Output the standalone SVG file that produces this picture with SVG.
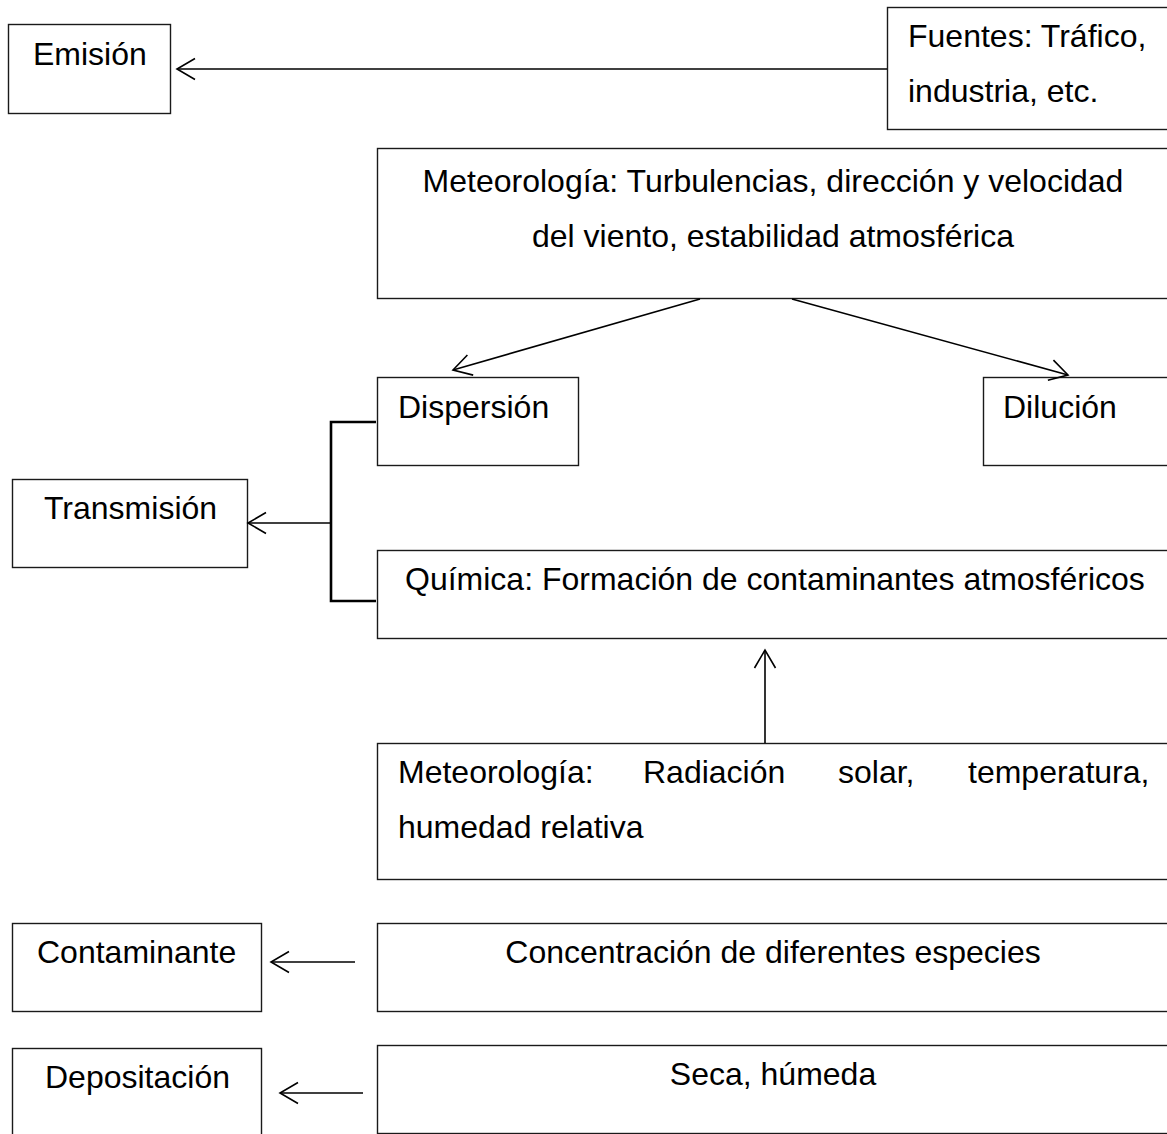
<svg xmlns="http://www.w3.org/2000/svg" width="1167" height="1134" viewBox="0 0 1167 1134">
<style>
  .box { fill: #ffffff; stroke: #1a1a1a; stroke-width: 1.4; }
  .t { font-family: "Liberation Sans", Arial, sans-serif; font-size: 32px; fill: #000000; }
  .c { text-anchor: middle; }
  .ln { fill: none; stroke: #000000; stroke-width: 1.6; }
  .br { fill: none; stroke: #000000; stroke-width: 2.6; }
</style>
<defs>
  <marker id="arr" markerUnits="userSpaceOnUse" markerWidth="40" markerHeight="40" refX="0" refY="0" orient="auto" overflow="visible">
    <path d="M-18,-10.5 L0,0 L-18,10.5" fill="none" stroke="#000000" stroke-width="1.6"/>
  </marker>
</defs>
<rect width="1167" height="1134" fill="#ffffff"/>

<g id="emision">
  <rect class="box" x="8.5" y="24.5" width="162" height="89"/>
  <text class="t" x="33" y="65">Emisión</text>
</g>
<g id="fuentes">
  <rect class="box" x="887.5" y="7.5" width="300" height="122"/>
  <text class="t" x="908" y="47">Fuentes: Tráfico,</text>
  <text class="t" x="908" y="102">industria, etc.</text>
</g>
<g id="meteorologia1">
  <rect class="box" x="377.5" y="148.5" width="800" height="150"/>
  <text class="t c" x="773" y="192">Meteorología: Turbulencias, dirección y velocidad</text>
  <text class="t c" x="773" y="247">del viento, estabilidad atmosférica</text>
</g>
<g id="dispersion">
  <rect class="box" x="377.5" y="377.5" width="201" height="88"/>
  <text class="t" x="398" y="418">Dispersión</text>
</g>
<g id="dilucion">
  <rect class="box" x="983.5" y="377.5" width="200" height="88"/>
  <text class="t" x="1003" y="418">Dilución</text>
</g>
<g id="transmision">
  <rect class="box" x="12.5" y="479.5" width="235" height="88"/>
  <text class="t" x="44" y="519">Transmisión</text>
</g>
<g id="quimica">
  <rect class="box" x="377.5" y="550.5" width="800" height="88"/>
  <text class="t" x="405" y="590">Química: Formación de contaminantes atmosféricos</text>
</g>
<g id="meteorologia2">
  <rect class="box" x="377.5" y="743.5" width="800" height="136"/>
  <text class="t" x="398" y="783">Meteorología:</text>
  <text class="t" x="643" y="783">Radiación</text>
  <text class="t" x="838" y="783">solar,</text>
  <text class="t" x="968" y="783">temperatura,</text>
  <text class="t" x="398" y="838">humedad relativa</text>
</g>
<g id="contaminante">
  <rect class="box" x="12.5" y="923.5" width="249" height="88"/>
  <text class="t" x="37" y="963">Contaminante</text>
</g>
<g id="concentracion">
  <rect class="box" x="377.5" y="923.5" width="800" height="88"/>
  <text class="t c" x="773" y="963">Concentración de diferentes especies</text>
</g>
<g id="depositacion">
  <rect class="box" x="12.5" y="1048.5" width="249" height="100"/>
  <text class="t" x="45" y="1088">Depositación</text>
</g>
<g id="seca">
  <rect class="box" x="377.5" y="1045.5" width="800" height="88"/>
  <text class="t c" x="773" y="1085">Seca, húmeda</text>
</g>

<g id="connectors">
  <line class="ln" x1="887" y1="69" x2="177" y2="69" marker-end="url(#arr)"/>
  <line class="ln" x1="700" y1="299" x2="453" y2="370" marker-end="url(#arr)"/>
  <line class="ln" x1="792" y1="299" x2="1068" y2="375" marker-end="url(#arr)"/>
  <polyline class="br" points="376,422 331,422 331,601 376,601"/>
  <line class="ln" x1="331" y1="523" x2="248" y2="523" marker-end="url(#arr)"/>
  <line class="ln" x1="765" y1="743" x2="765" y2="650" marker-end="url(#arr)"/>
  <line class="ln" x1="355" y1="962" x2="271" y2="962" marker-end="url(#arr)"/>
  <line class="ln" x1="363" y1="1093" x2="280" y2="1093" marker-end="url(#arr)"/>
</g>
</svg>
